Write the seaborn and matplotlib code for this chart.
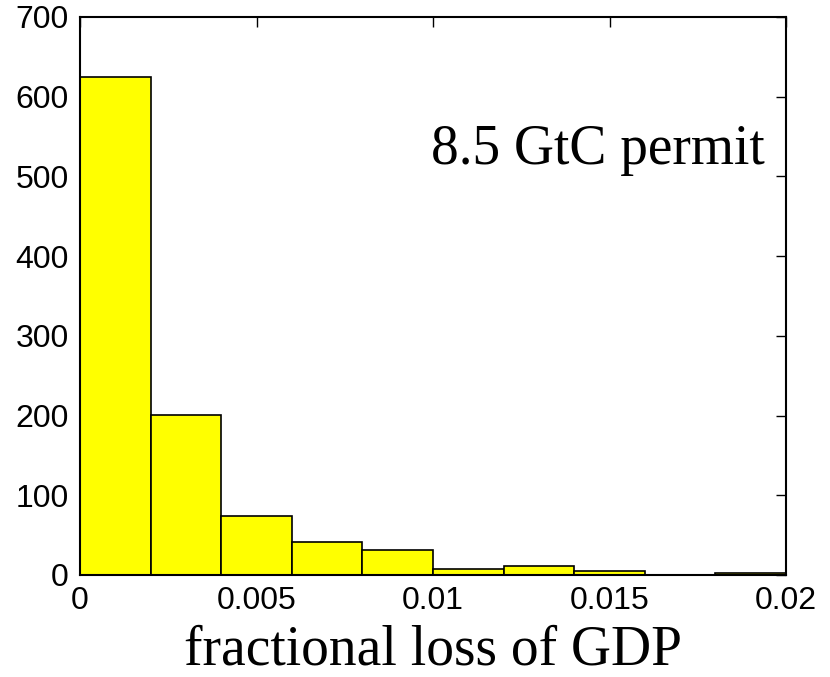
import numpy as np
import matplotlib
matplotlib.use("Agg")
import matplotlib.pyplot as plt
import seaborn as sns

bin_edges = [0.0, 0.002, 0.004, 0.006, 0.008, 0.010, 0.012, 0.014, 0.016, 0.018, 0.020]
counts = [625, 201, 74, 41, 31, 8, 11, 5, 0, 3]
bin_centers = [(a + b) / 2 for a, b in zip(bin_edges[:-1], bin_edges[1:])]
x_ticks = [0, 0.005, 0.01, 0.015, 0.02]
x_tick_labels = ["0", "0.005", "0.01", "0.015", "0.02"]
y_ticks = [0, 100, 200, 300, 400, 500, 600, 700]

sns.set_style("white")
plt.rcParams["text.color"] = "black"
fig = plt.figure(figsize=(8.3, 6.77), dpi=100)
ax = fig.add_axes([80/830, 1 - 575/677, (786-80)/830, (575-17)/677])

sns.histplot(x=bin_centers, weights=counts, bins=bin_edges, ax=ax,
             color="#ffff00", alpha=1.0, edgecolor="black", linewidth=1.2)

ax.set_xlim(0, 0.02)
ax.set_ylim(0, 700)
ax.set_xticks(x_ticks)
ax.set_xticklabels(x_tick_labels)
ax.set_yticks(y_ticks)
ax.tick_params(direction="in", top=True, right=True, length=7, width=1,
               labelsize=23, pad=8, colors="black")
for lab in ax.get_xticklabels() + ax.get_yticklabels():
    lab.set_family("Liberation Sans")
for s in ax.spines.values():
    s.set_linewidth(1.5)
    s.set_color("black")
ax.set_ylabel("")
ax.set_xlabel("fractional loss of GDP", family="Liberation Serif", fontsize=40,
              labelpad=6, color="black")
ax.text(0.0194, 533, "8.5 GtC permit", family="Liberation Serif", fontsize=40,
        ha="right", va="center", color="black")

fig.savefig("out.png", dpi=100)
